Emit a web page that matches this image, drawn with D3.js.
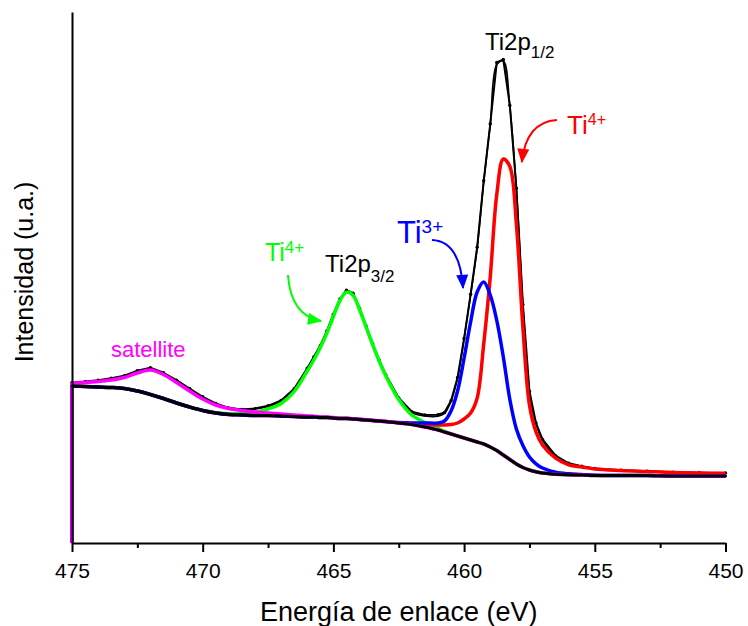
<!DOCTYPE html>
<html>
<head>
<meta charset="utf-8">
<script src="https://cdn.jsdelivr.net/npm/d3@7/dist/d3.min.js"></script>
<style>
  html, body { margin: 0; padding: 0; background: #fff; }
  svg { display: block; }
  text { font-family: "Liberation Sans", Arial, Helvetica, sans-serif; }
</style>
</head>
<body>
<svg id="chart" width="748" height="626"></svg>
<script>
// Binding energy grid (eV)
const energy = [475, 474.5, 474, 473.5, 473, 472.5, 472, 471.5, 471, 470.5,
  470, 469.5, 469, 468.5, 468, 467.5, 467, 466.5, 466, 465.75,
  465.5, 465.25, 465, 464.75, 464.5, 464.25, 464, 463.75, 463.5, 463.25,
  463, 462.5, 462, 461.5, 461, 460.75, 460.5, 460.25, 460, 459.75,
  459.5, 459.25, 459, 458.75, 458.5, 458.25, 458, 457.75, 457.5, 457.25,
  457, 456.5, 456, 455.5, 455, 454, 453, 452, 451, 450];

// Shirley-type background (counts)
const background = [1570, 1565, 1560, 1555, 1545, 1520, 1485, 1445, 1400, 1360,
  1325, 1300, 1285, 1280, 1275, 1275, 1270, 1265, 1260, 1260,
  1255, 1255, 1250, 1245, 1245, 1240, 1235, 1230, 1225, 1220,
  1215, 1200, 1185, 1160, 1130, 1110, 1090, 1070, 1050, 1030,
  1010, 990, 960, 925, 880, 835, 790, 755, 730, 712,
  700, 688, 682, 680, 675, 675, 675, 670, 670, 670];

// Fitted components, intensity above background (counts)
const satellite = [30, 40, 55, 75, 110, 180, 245, 240, 205, 160,
  115, 80, 60, 45, 35, 25, 20, 15, 10, 8,
  6, 5, 4, 3, 3, 2, 2, 2, 1, 1,
  1, 0, 0, 0, 0, 0, 0, 0, 0, 0,
  0, 0, 0, 0, 0, 0, 0, 0, 0, 0,
  0, 0, 0, 0, 0, 0, 0, 0, 0, 0];

const ti4p32 = [0, 0, 0, 0, 0, 0, 0, 0, 0, 0,
  1, 3, 7, 15, 30, 65, 125, 250, 460, 570,
  700, 845, 1015, 1180, 1264, 1238, 1100, 930, 760, 600,
  460, 235, 95, 45, 18, 6, 3, 1, 0, 0,
  0, 0, 0, 0, 0, 0, 0, 0, 0, 0,
  0, 0, 0, 0, 0, 0, 0, 0, 0, 0];

const ti3 = [0, 0, 0, 0, 0, 0, 0, 0, 0, 0,
  0, 0, 0, 0, 0, 0, 0, 0, 0, 0,
  0, 0, 0, 0, 0, 0, 0, 0, 0, 0,
  0, 4, 15, 40, 70, 110, 230, 450, 800, 1180,
  1500, 1620, 1520, 1300, 980, 600, 350, 220, 130, 80,
  50, 20, 10, 5, 2, 0, 0, 0, 0, 0];

const ti4p12 = [0, 0, 0, 0, 0, 0, 0, 0, 0, 0,
  0, 0, 0, 0, 0, 0, 0, 0, 0, 0,
  0, 0, 0, 0, 0, 0, 0, 0, 0, 0,
  0, 2, 10, 25, 50, 70, 95, 130, 190, 270,
  440, 1000, 1700, 2560, 2960, 2930, 2400, 1400, 650, 400,
  280, 160, 100, 80, 65, 50, 40, 35, 30, 27];

// Measured spectrum (counts)
const measured = [1605, 1614, 1628, 1648, 1672, 1722, 1752, 1702, 1628, 1545,
  1462, 1395, 1350, 1336, 1344, 1372, 1426, 1542, 1748, 1860,
  1974, 2120, 2288, 2440, 2528, 2498, 2348, 2170, 1994, 1830,
  1684, 1450, 1314, 1280, 1282, 1305, 1422, 1656, 2046, 2488,
  2958, 3622, 4190, 4805, 4835, 4375, 3548, 2385, 1518, 1200,
  1036, 873, 797, 768, 746, 728, 717, 708, 702, 700];

const majorTicks = [475, 470, 465, 460, 455, 450];
const minorTicks = [472.5, 467.5, 462.5, 457.5, 452.5];

const svg = d3.select("#chart");

const x = d3.scaleLinear().domain([475, 450]).range([72, 725.5]);
const y = d3.scaleLinear().domain([0, 5310]).range([543, 12]);

// Bottom axis
const xAxisMajor = d3.axisBottom(x).tickValues(majorTicks).tickSize(9).tickSizeOuter(0)
  .tickFormat(d3.format("d"));
const xAxisMinor = d3.axisBottom(x).tickValues(minorTicks).tickSize(5).tickSizeOuter(0)
  .tickFormat("");

const gxMinor = svg.append("g").attr("transform", `translate(0,${y(0)})`).call(xAxisMinor);
gxMinor.select(".domain").remove();
gxMinor.selectAll(".tick line").attr("stroke", "#000").attr("stroke-width", 2);

const gx = svg.append("g").attr("transform", `translate(0,${y(0)})`).call(xAxisMajor);
gx.select(".domain").attr("stroke", "#000").attr("stroke-width", 2);
gx.selectAll(".tick line").attr("stroke", "#000").attr("stroke-width", 2);
gx.selectAll(".tick text")
  .attr("y", 20).attr("dy", "0.71em")
  .attr("fill", "#000")
  .style("font-size", "21px")
  .style("font-family", '"Liberation Sans", Arial, sans-serif');

// Axis titles
svg.append("text")
  .attr("x", (x.range()[0] + x.range()[1]) / 2)
  .attr("y", 621)
  .attr("text-anchor", "middle")
  .style("font-size", "27px")
  .attr("fill", "#000")
  .text("Energía de enlace (eV)");

svg.append("text")
  .attr("transform", `translate(33,272) rotate(-90)`)
  .attr("text-anchor", "middle")
  .style("font-size", "25px")
  .attr("fill", "#000")
  .text("Intensidad (u.a.)");

// Build series
const pts = vals => energy.map((e, i) => ({ e, v: vals[i] }));
const withBg = comp => background.map((b, i) => b + comp[i]);
const envelope = background.map((b, i) => b + satellite[i] + ti4p32[i] + ti3[i] + ti4p12[i]);

const smooth = d3.line().x(d => x(d.e)).y(d => y(d.v)).curve(d3.curveCatmullRom.alpha(0.5));
const raw = d3.line().x(d => x(d.e)).y(d => y(d.v)).curve(d3.curveLinear);

// fitted curves start from zero at the high-energy edge of the window
const fitPath = vals => `M${x(energy[0])},${y(0)}` + smooth(pts(vals)).replace(/^M/, "L");

const plot = svg.append("g").attr("fill", "none").attr("stroke-linejoin", "round").attr("stroke-linecap", "round");

// Measured data and fit envelope
plot.append("path").attr("d", raw(pts(measured))).attr("stroke", "#000").attr("stroke-width", 2);
plot.append("g").selectAll("circle").data(pts(measured)).join("circle")
  .attr("cx", d => x(d.e)).attr("cy", d => y(d.v)).attr("r", 1.7)
  .attr("fill", "#000").attr("stroke", "none");
plot.append("path").attr("d", smooth(pts(envelope))).attr("stroke", "#000").attr("stroke-width", 1.6);

// Components
const components = [
  { vals: ti4p32, color: "#00ff00" },
  { vals: ti4p12, color: "#ff0000" },
  { vals: ti3, color: "#0000ff" },
  { vals: satellite, color: "#ff00ff" }
];
components.forEach(c => {
  plot.append("path")
    .attr("d", fitPath(withBg(c.vals)))
    .attr("stroke", c.color)
    .attr("stroke-width", 3.5)
    .attr("stroke-linecap", "butt");
});

// Background
plot.append("path").attr("d", smooth(pts(background))).attr("stroke", "#000").attr("stroke-width", 3);

// Left axis drawn over the curves
const gy = svg.append("g").attr("transform", `translate(${x(475)},0)`)
  .call(d3.axisLeft(y).tickValues([]).tickSizeOuter(0));
gy.select(".domain").attr("stroke", "#000").attr("stroke-width", 2);

// Annotations
const defs = svg.append("defs");
function marker(id, color) {
  defs.append("marker")
    .attr("id", id)
    .attr("viewBox", "0 0 12 10")
    .attr("refX", 11).attr("refY", 5)
    .attr("markerUnits", "userSpaceOnUse")
    .attr("markerWidth", 15).attr("markerHeight", 12)
    .attr("orient", "auto")
    .append("path").attr("d", "M0,0 L12,5 L0,10 Z").attr("fill", color);
}
marker("ah-green", "#00ff00");
marker("ah-blue", "#0000ff");
marker("ah-red", "#ff0000");

function arrow(p0, p1, p2, color, id) {
  const p = d3.path();
  p.moveTo(x(p0[0]), y(p0[1]));
  p.quadraticCurveTo(x(p1[0]), y(p1[1]), x(p2[0]), y(p2[1]));
  svg.append("path").attr("d", p.toString())
    .attr("fill", "none").attr("stroke", color).attr("stroke-width", 2)
    .attr("marker-end", `url(#${id})`);
}
arrow([466.74, 2680], [466.62, 2270], [465.47, 2220], "#00ff00", "ah-green");
arrow([461.23, 3030], [460.16, 3020], [460.04, 2550], "#0000ff", "ah-blue");
arrow([456.45, 4230], [457.63, 4210], [457.79, 3810], "#ff0000", "ah-red");

function label(e, v, main, sub, color, size, subSize, shift) {
  const t = svg.append("text").attr("x", x(e)).attr("y", y(v)).attr("fill", color)
    .style("font-size", size + "px");
  t.append("tspan").text(main);
  t.append("tspan").attr("dy", shift).style("font-size", subSize + "px").text(sub);
}
label(459.2, 4930, "Ti2p", "1/2", "#000", 24, 17, 8);
label(465.32, 2713, "Ti2p", "3/2", "#000", 24, 17, 10);
label(467.62, 2820, "Ti", "4+", "#00ff00", 25, 17, -8);
label(462.57, 3003, "Ti", "3+", "#0000ff", 31, 19, -10);
label(456.06, 4087, "Ti", "4+", "#ff0000", 26, 16, -9);

svg.append("text")
  .attr("x", x(473.51)).attr("y", y(1863))
  .attr("fill", "#ff00ff")
  .style("font-size", "22px")
  .text("satellite");
</script>
</body>
</html>
